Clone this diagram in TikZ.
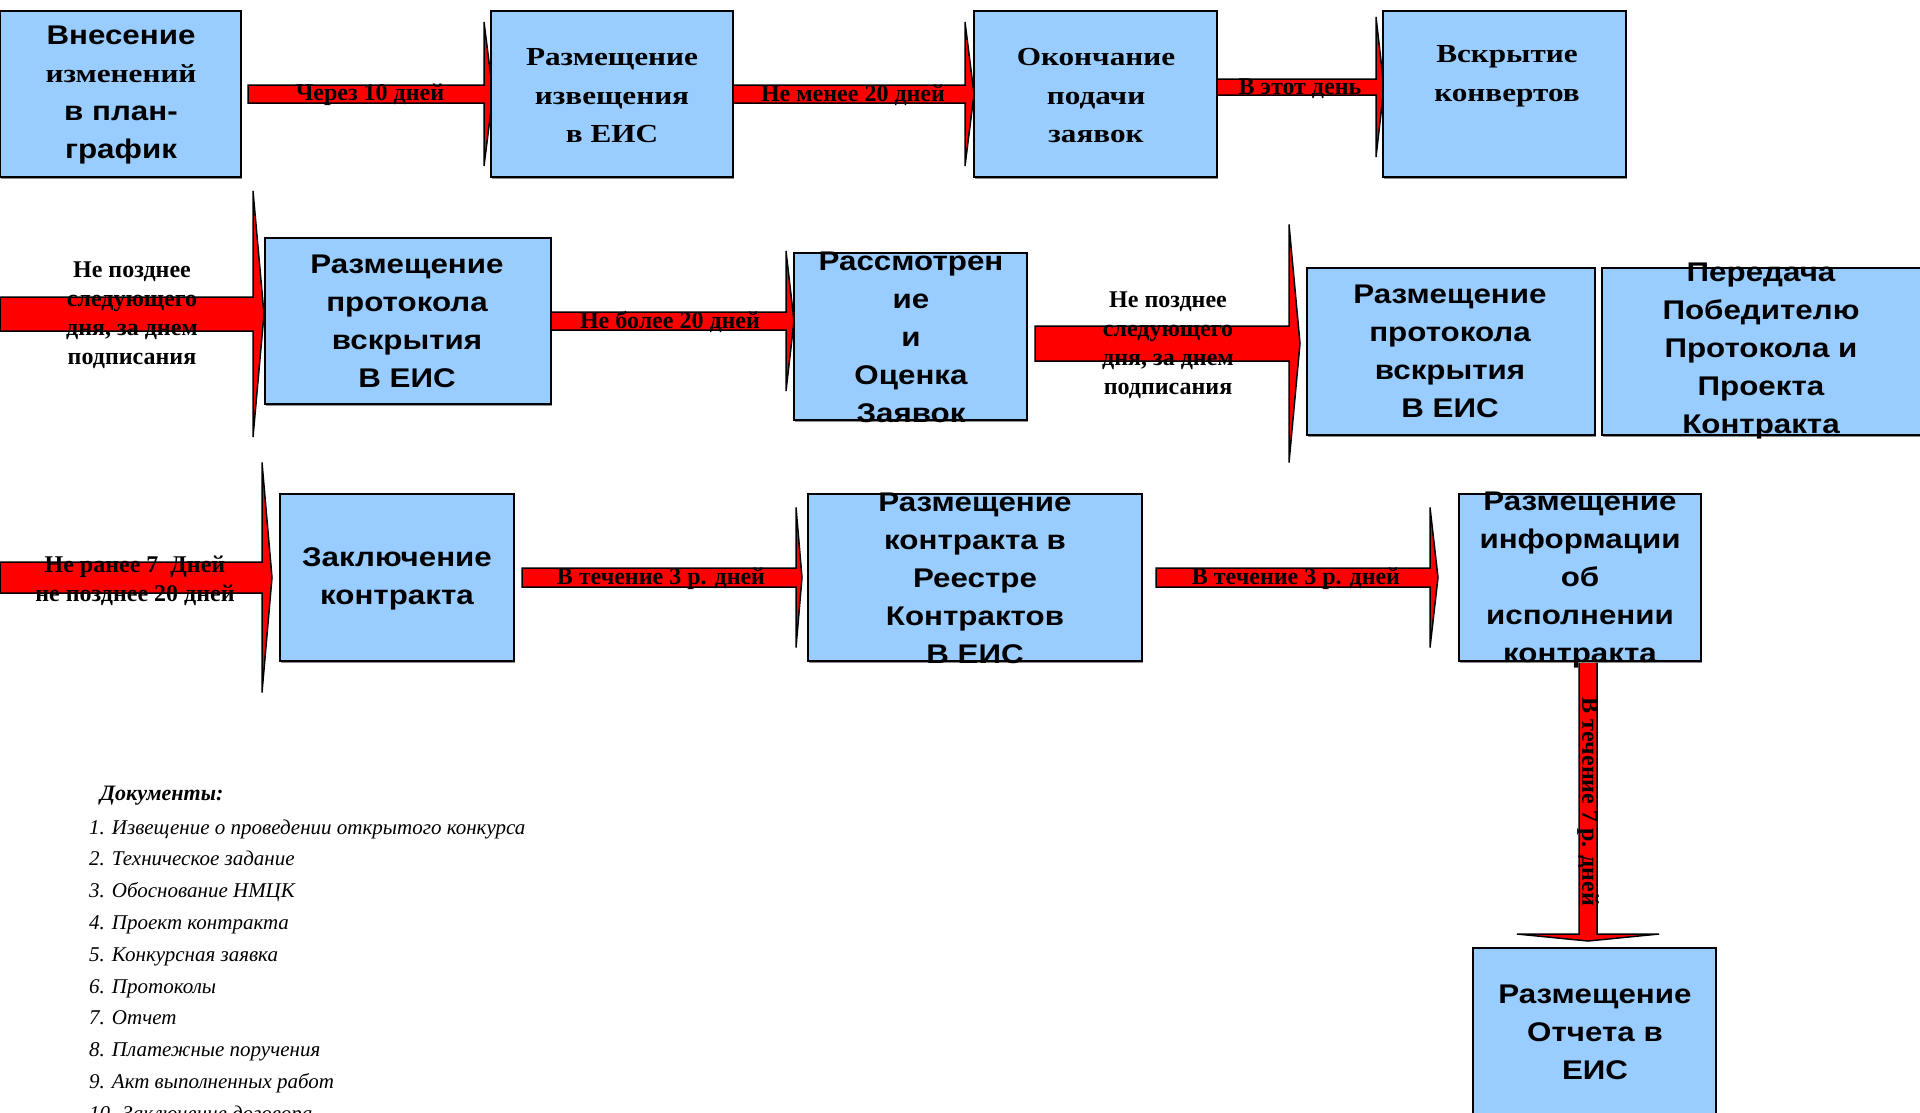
\documentclass[tikz,border=0pt]{standalone}
\usepackage{fontspec}
\usetikzlibrary{calc,shadows}
\newfontfamily\arialfont{Liberation Sans}[FakeStretch=1.16]
\newfontfamily\timesplain{Liberation Serif}
\newfontfamily\docfont{Liberation Serif}
\newcommand{\hs}[1]{\scalebox{1.2}[1]{#1}}
\definecolor{boxblue}{HTML}{99CCFF}
\definecolor{arrred}{HTML}{FF0000}
\pgfdeclarelayer{back}
\pgfdeclarelayer{bg}
\pgfsetlayers{back,bg,main}
% right block arrow: start, tip, half shaft, half head, head length
\newcommand{\blockarr}[5]{\draw[barrow] ($(#1)+(0,#3)$) -- ($(#2)+(-#5,#3)$) -- ($(#2)+(-#5,#4)$) -- (#2) -- ($(#2)+(-#5,-#4)$) -- ($(#2)+(-#5,-#3)$) -- ($(#1)+(0,-#3)$) -- cycle;}
\begin{document}
\begin{tikzpicture}[x=1pt,y=1pt,
  box/.style={draw=black, line width=2pt, fill=boxblue, inner sep=0pt, outer sep=0pt,
    drop shadow={shadow xshift=1pt, shadow yshift=-2pt, fill=black!45, opacity=1}},
  ta/.style={font=\arialfont\bfseries\fontsize{27}{38}\selectfont, align=center, inner sep=0pt},
  tt/.style={font=\timesplain\bfseries\fontsize{26}{38.5}\selectfont, align=center, inner sep=0pt},
  lab/.style={font=\timesplain\bfseries\fontsize{24}{29}\selectfont, align=center, inner sep=0pt},
  doc/.style={font=\docfont\itshape\fontsize{21}{25}\selectfont, inner sep=0pt, anchor=base west},
  barrow/.style={fill=arrred, draw=black, line width=1.5pt}]
\begin{pgfonlayer}{back}
\fill[white] (0,0) rectangle (1920,-1112);
\end{pgfonlayer}
\useasboundingbox (0,0) rectangle (1920,-1112);

% boxes
\node[box, minimum width=241, minimum height=166] (b1) at (120.5,-94) {};
\node[box, minimum width=242, minimum height=166] (b2) at (612,-94) {};
\node[box, minimum width=243, minimum height=166] (b3) at (1095.5,-94) {};
\node[box, minimum width=243, minimum height=166] (b4) at (1504.5,-94) {};
\node[box, minimum width=286, minimum height=166] (b5) at (408,-321) {};
\node[box, minimum width=233, minimum height=167] (b6) at (910.5,-336.5) {};
\node[box, minimum width=288, minimum height=167] (b7) at (1451,-351.5) {};
\node[box, minimum width=320, minimum height=167] (b8) at (1762,-351.5) {};
\node[box, minimum width=234, minimum height=167] (b9) at (397,-577.5) {};
\node[box, minimum width=334, minimum height=167] (b10) at (975,-577.5) {};
\node[box, minimum width=242, minimum height=167] (b11) at (1580,-577.5) {};
\node[box, minimum width=243, minimum height=184] (b12) at (1594.5,-1040) {};

% arrow end points
\coordinate (a1s) at (248,-94);
\coordinate (a1e) at ($(b2.west)+(2,0)$);
\coordinate (a2s) at (b2.east);
\coordinate (a2e) at (b3.west);
\coordinate (a3s) at ($(b3.east)+(0,7)$);
\coordinate (a3e) at ($(b4.west)+(1,7)$);
\coordinate (a4s) at (0,-314);
\coordinate (a4e) at ($(b5.west)+(-1,7)$);
\coordinate (a5s) at (b5.east);
\coordinate (a5e) at ($(b6.west)+(0,15.5)$);
\coordinate (a6s) at (1035,-343.5);
\coordinate (a6e) at ($(b7.west)+(-7,8)$);
\coordinate (a7s) at (0,-577.5);
\coordinate (a7e) at ($(b9.west)+(-8,0)$);
\coordinate (a8s) at ($(b9.east)+(8,0)$);
\coordinate (a8e) at ($(b10.west)+(-6,0)$);
\coordinate (a9s) at ($(b10.east)+(14,0)$);
\coordinate (a9e) at ($(b11.west)+(-21,0)$);
\coordinate (a10s) at ($(b11.south)+(8,-1)$);
\coordinate (a10e) at ($(b12.north)+(-6.5,7)$);

\begin{pgfonlayer}{bg}
\blockarr{a1s}{a1e}{9}{72}{9}
\blockarr{a2s}{a2e}{9}{72}{9}
\blockarr{a3s}{a3e}{8}{70}{8}
\blockarr{a4s}{a4e}{17}{123}{11}
\blockarr{a5s}{a5e}{9}{70}{8}
\blockarr{a6s}{a6e}{17.5}{119}{11}
\blockarr{a7s}{a7e}{15.5}{115}{10}
\blockarr{a8s}{a8e}{9.5}{70}{6}
\blockarr{a9s}{a9e}{9.5}{70}{8}
\draw[barrow] ($(a10s)+(-9,0)$) -- ($(a10e)+(-9,7)$) -- ($(a10e)+(-71,7)$) -- (a10e)
  -- ($(a10e)+(71,7)$) -- ($(a10e)+(9,7)$) -- ($(a10s)+(9,0)$) -- cycle;
\end{pgfonlayer}

% arrow labels
\node[lab] (l1) at (370,-95) {Через 10 дней};
\node[lab] (l2) at (853,-95) {Не менее 20 дней};
\node[lab] (l3) at (1300,-89) {В этот день};
\node[lab] (l4) at (132,-315) {Не позднее\\следующего\\дня, за днем\\подписания};
\node[lab] (l5) at (670,-322) {Не более 20 дней};
\node[lab] (l6) at (1168,-345.5) {Не позднее\\следующего\\дня, за днем\\подписания};
\node[lab] (l7) at (135,-580.5) {Не ранее 7\ \ Дней\\не позднее 20 дней};
\node[lab] (l8) at (661,-579) {В течение 3 р. дней};
\node[lab] (l9) at (1296,-579) {В течение 3 р. дней};
\node[lab, rotate=-90] (l10) at (1588,-802) {В течение 7 р. дней};

% box texts
\node[ta] (t1) at (121,-95.5) {Внесение\\{\timesplain\fontsize{26}{38}\selectfont\hs{изменений}}\\в план-\\график};
\node[tt] (t2) at (612,-96) {\hs{Размещение}\\\hs{извещения}\\\hs{в ЕИС}};
\node[tt] (t3) at (1096,-96) {\hs{Окончание}\\\hs{подачи}\\\hs{заявок}};
\node[tt] (t4) at (1507,-76) {\hs{Вскрытие}\\\hs{конвертов}};
\node[ta] (t5) at (407,-321.5) {Размещение\\протокола\\вскрытия\\В ЕИС};
\node[ta] (t6) at (911,-337.5) {Рассмотрен\\ие\\и\\Оценка\\Заявок};
\node[ta] (t7) at (1450,-351.5) {Размещение\\протокола\\вскрытия\\В ЕИС};
\node[ta] (t8) at (1761,-351.5) {Передача\\Победителю\\Протокола и\\Проекта\\Контракта};
\node[ta] (t9) at (397,-579) {Заключение\\контракта};
\node[ta] (t10) at (975,-578.5) {Размещение\\контракта в\\Реестре\\Контрактов\\В ЕИС};
\node[ta] (t11) at (1580,-580) {Размещение\\информации\\об\\исполнении\\контракта};
\node[ta] (t12) at (1595,-1032.5) {Размещение\\Отчета в\\ЕИС};

% documents list
\node[doc, font=\docfont\bfseries\itshape\fontsize{22}{26}\selectfont] (dh) at (100,-800) {Документы:};
\foreach \t [count=\i] in {1. Извещение о проведении открытого конкурса,
  2. Техническое задание, 3. Обоснование НМЦК, 4. Проект контракта,
  5. Конкурсная заявка, 6. Протоколы, 7. Отчет, 8. Платежные поручения,
  9. Акт выполненных работ, 10. Заключение договора}
  \node[doc] (d\i) at (89,{-834-31.8*(\i-1)}) {\t};
\end{tikzpicture}
\end{document}
